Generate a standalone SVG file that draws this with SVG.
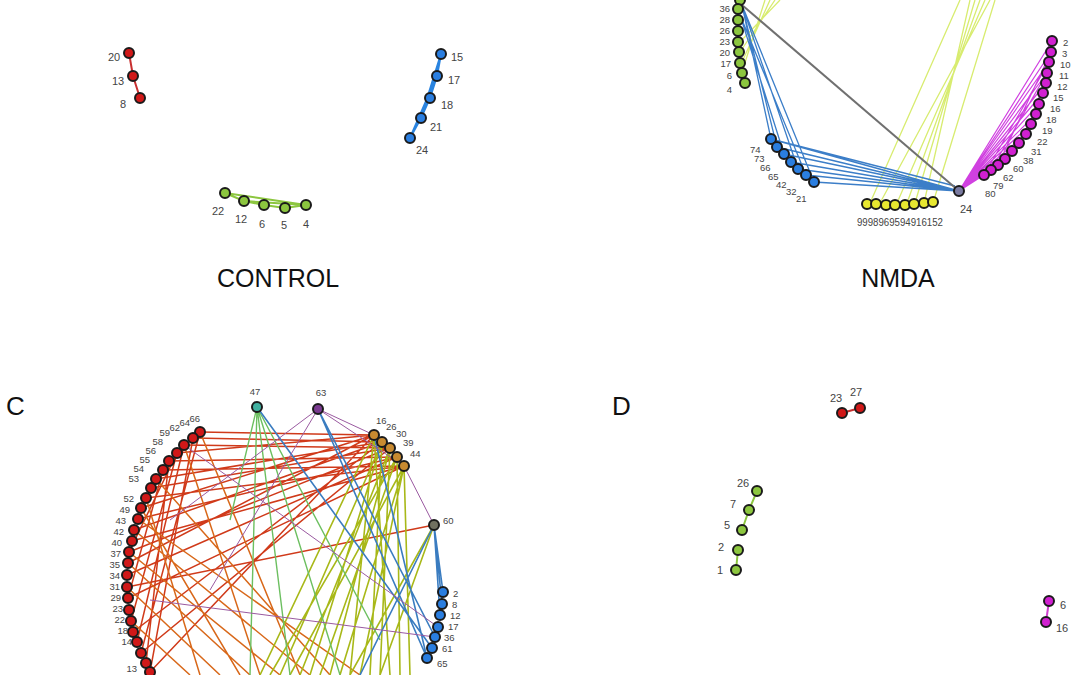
<svg xmlns="http://www.w3.org/2000/svg" width="1080" height="675" viewBox="0 0 1080 675">
<style>
text{font-family:"Liberation Sans",Arial,sans-serif;fill:#444;font-size:11px}
.s{font-size:9.5px}
.big{font-size:26px;fill:#111}
.ttl{font-size:25px;fill:#111}
circle{stroke:#1a1a1a;stroke-width:2;r:5}
.r{fill:#d01818}.b{fill:#2a7ee0}.g{fill:#8cc63f}.y{fill:#e8e830}.m{fill:#d020d0}.o{fill:#c88a30}
.lr{stroke:#d03a1a;stroke-width:1.5;fill:none}
.lo{stroke:#d8681a;stroke-width:1.5;fill:none}
.ly{stroke:#a8b818;stroke-width:1.6;fill:none}
.lg{stroke:#6cbf60;stroke-width:1.4;fill:none}
.lb{stroke:#3a7cc0;stroke-width:1.6;fill:none}
.lp{stroke:#9a5aa0;stroke-width:1;fill:none}
.lyn{stroke:#d8ec70;stroke-width:1.3;fill:none}
.lbn{stroke:#3c7ec8;stroke-width:1.3;fill:none}
.lm{stroke:#d040e0;stroke-width:1.2;fill:none}
</style>
<rect width="1080" height="675" fill="#fff"/>
<g id="connectors">
<path d="M129 53L133 76L140 98" stroke="#c83030" stroke-width="2" fill="none"/>
<path d="M441 54L437 76L430 98L421 118L410 138M441 54L421 118M437 76L410 138M441 54L430 98" stroke="#2a84e0" stroke-width="2" fill="none"/>
<path d="M225 193L244 201L264 205L285 208L306 205M225 193L306 205M244 201L306 205" stroke="#8cc63f" stroke-width="2" fill="none"/>
<path class="lyn" d="M742 62L770 0M742 72L765 0M740 52L775 0M740 42L780 0M880 203L990 0M897 203L985 0M907 203L980 0M915 203L975 0M924 203L970 0M933 203L995 0M870 203L960 0"/>
<path class="lbn" d="M742 5L771 139M742 5L777 147M742 5L798 169M742 5L814 182M740 15L806 175M740 15L784 154M771 139L959 191M777 147L959 191M784 154L959 191M791 162L959 191M798 169L959 191M806 175L959 191M814 182L959 191M771 139L955 186M777 147L955 190"/>
<path d="M742 5L959 191" stroke="#707070" stroke-width="2" fill="none"/>
<path class="lm" d="M959 191L1052 41M959 191L1051 52M959 191L1049 62M959 191L1047 73M959 191L1046 83M959 191L1043 93M959 191L1039 104M959 191L1036 114M959 191L1031 124M959 191L1026 134M959 191L1019 143M959 191L1012 151M959 191L1005 159M959 191L998 165M959 191L991 170M959 191L984 175M984 175L1049 62M991 170L1047 73M998 165L1051 52"/>
<path class="lr" d="M200 432L374 435M193 438L382 442M184 445L390 448M177 453L374 435M169 461L397 457M163 470L404 466M156 479L382 442M151 488L390 448M146 498L404 466M141 508L374 435M138 519L397 457M134 530L382 442M132 541L404 466M129 552L390 448M128 563L374 435M127 575L397 457M127 587L434 525M128 598L404 466M133 632L382 442M141 653L390 448M150 672L374 435"/>
<path class="lr" d="M177 453L129 552M177 453L131 621M184 445L137 642M169 461L146 663M200 432L141 653M193 438L150 672M163 470L128 598"/>
<path class="lo" d="M200 432L300 675M184 445L260 675M156 479L330 675M141 508L240 675M129 552L280 675M127 587L220 675M131 621L190 675M138 519L360 675M146 498L200 675M128 563L250 675M134 530L310 675"/>
<path class="ly" d="M374 435L260 675M382 442L280 675M390 448L300 675M397 457L320 675M404 466L340 675M374 435L350 675M382 442L370 675M390 448L380 675M397 457L400 675M404 466L290 675M390 448L330 675M382 442L310 675M404 466L360 675M374 435L390 675M397 457L270 675M434 525L350 675M434 525L380 675M404 466L410 675"/>
<path class="lg" d="M257 407L250 675M257 407L290 675M257 407L340 675M257 407L230 520M257 407L380 640"/>
<path class="lb" d="M257 407L432 648M318 409L427 658M318 409L435 637M434 525L443 592M434 525L442 604M434 525L440 615M434 525L360 675M374 435L427 658"/>
<path class="lp" d="M318 409L210 590M318 409L170 520M318 409L374 435M318 409L404 466M184 445L438 627M404 466L434 525M150 600L435 637"/>
<path d="M842 413L860 408" stroke="#c83030" stroke-width="2"/>
<path d="M757 491L749 510L742 530M738 550L736 570" stroke="#8cc63f" stroke-width="2" fill="none"/>
<path d="M1049 601L1046 622" stroke="#d040d0" stroke-width="2"/>
</g>
<g id="control-nodes">
<circle class="r" cx="129" cy="53"/><circle class="r" cx="133" cy="76"/><circle class="r" cx="140" cy="98"/>
<text x="108" y="61">20</text><text x="112" y="85">13</text><text x="120" y="108">8</text>
<circle class="b" cx="441" cy="54"/><circle class="b" cx="437" cy="76"/><circle class="b" cx="430" cy="98"/><circle class="b" cx="421" cy="118"/><circle class="b" cx="410" cy="138"/>
<text x="451" y="61">15</text><text x="448" y="84">17</text><text x="441" y="109">18</text><text x="430" y="131">21</text><text x="416" y="154">24</text>
<circle class="g" cx="225" cy="193"/><circle class="g" cx="244" cy="201"/><circle class="g" cx="264" cy="205"/><circle class="g" cx="285" cy="208"/><circle class="g" cx="306" cy="205"/>
<text x="212" y="215">22</text><text x="235" y="223">12</text><text x="259" y="228">6</text><text x="281" y="229">5</text><text x="303" y="228">4</text>
<text class="ttl" x="278" y="287" text-anchor="middle">CONTROL</text>
</g>
<g id="nmda-nodes">
<circle class="g" cx="740" cy="0"/><circle class="g" cx="738" cy="9"/><circle class="g" cx="738" cy="20"/><circle class="g" cx="738" cy="31"/><circle class="g" cx="738" cy="42"/><circle class="g" cx="739" cy="52"/><circle class="g" cx="740" cy="63"/><circle class="g" cx="742" cy="73"/><circle class="g" cx="745" cy="83"/>
<g text-anchor="end" class="s"><text class="s" x="730" y="12">36</text><text class="s" x="730" y="23">28</text><text class="s" x="730" y="34">26</text><text class="s" x="730" y="45">23</text><text class="s" x="730" y="56">20</text><text class="s" x="731" y="67">17</text><text class="s" x="732" y="79">6</text><text class="s" x="732" y="93">4</text></g>
<circle class="b" cx="771" cy="139"/><circle class="b" cx="777" cy="147"/><circle class="b" cx="784" cy="154"/><circle class="b" cx="791" cy="162"/><circle class="b" cx="798" cy="169"/><circle class="b" cx="806" cy="175"/><circle class="b" cx="814" cy="182"/>
<text class="s" x="750" y="153">74</text><text class="s" x="754" y="162">73</text><text class="s" x="760" y="171">66</text><text class="s" x="768" y="180">65</text><text class="s" x="776" y="188">42</text><text class="s" x="786" y="195">32</text><text class="s" x="796" y="202">21</text>
<circle class="y" cx="867" cy="204"/><circle class="y" cx="876" cy="204"/><circle class="y" cx="886" cy="205"/><circle class="y" cx="895" cy="205"/><circle class="y" cx="905" cy="205"/><circle class="y" cx="914" cy="204"/><circle class="y" cx="924" cy="203"/><circle class="y" cx="933" cy="202"/>
<text x="857" y="226" textLength="86" lengthAdjust="spacingAndGlyphs">9998969594916152</text>
<circle cx="959" cy="191" fill="#7a7aa0"/><text x="960" y="213">24</text>
<circle class="m" cx="1052" cy="41"/><circle class="m" cx="1051" cy="52"/><circle class="m" cx="1049" cy="62"/><circle class="m" cx="1047" cy="73"/><circle class="m" cx="1046" cy="83"/><circle class="m" cx="1043" cy="93"/><circle class="m" cx="1039" cy="104"/><circle class="m" cx="1036" cy="114"/><circle class="m" cx="1031" cy="124"/><circle class="m" cx="1026" cy="134"/><circle class="m" cx="1019" cy="143"/><circle class="m" cx="1012" cy="151"/><circle class="m" cx="1005" cy="159"/><circle class="m" cx="998" cy="165"/><circle class="m" cx="991" cy="170"/><circle class="m" cx="984" cy="175"/>
<text class="s" x="1063" y="46">2</text><text class="s" x="1062" y="57">3</text><text class="s" x="1060" y="68">10</text><text class="s" x="1059" y="79">11</text><text class="s" x="1057" y="90">12</text><text class="s" x="1053" y="101">15</text><text class="s" x="1050" y="112">16</text><text class="s" x="1046" y="123">18</text><text class="s" x="1042" y="134">19</text><text class="s" x="1037" y="145">22</text><text class="s" x="1031" y="155">31</text><text class="s" x="1023" y="164">38</text><text class="s" x="1013" y="172">60</text><text class="s" x="1003" y="181">62</text><text class="s" x="993" y="189">79</text><text class="s" x="985" y="197">80</text>
<text class="ttl" x="898" y="287" text-anchor="middle">NMDA</text>
</g>
<g id="c-nodes">
<text class="big" x="6" y="415">C</text>
<circle class="r" cx="200" cy="432"/><circle class="r" cx="193" cy="438"/><circle class="r" cx="184" cy="445"/><circle class="r" cx="177" cy="453"/><circle class="r" cx="169" cy="461"/><circle class="r" cx="163" cy="470"/><circle class="r" cx="156" cy="479"/><circle class="r" cx="151" cy="488"/><circle class="r" cx="146" cy="498"/><circle class="r" cx="141" cy="508"/><circle class="r" cx="138" cy="519"/><circle class="r" cx="134" cy="530"/><circle class="r" cx="132" cy="541"/><circle class="r" cx="129" cy="552"/><circle class="r" cx="128" cy="563"/><circle class="r" cx="127" cy="575"/><circle class="r" cx="127" cy="587"/><circle class="r" cx="128" cy="598"/><circle class="r" cx="129" cy="610"/><circle class="r" cx="131" cy="621"/><circle class="r" cx="133" cy="632"/><circle class="r" cx="137" cy="642"/><circle class="r" cx="141" cy="653"/><circle class="r" cx="146" cy="663"/><circle class="r" cx="150" cy="672"/>
<g text-anchor="end"><text class="s" x="200" y="422">66</text><text class="s" x="190" y="426">64</text><text class="s" x="180" y="431">62</text><text class="s" x="170" y="436">59</text><text class="s" x="163" y="445">58</text><text class="s" x="156" y="454">56</text><text class="s" x="150" y="463">55</text><text class="s" x="144" y="472">54</text><text class="s" x="139" y="482">53</text><text class="s" x="134" y="502">52</text><text class="s" x="130" y="513">49</text><text class="s" x="126" y="524">43</text><text class="s" x="124" y="535">42</text><text class="s" x="122" y="546">40</text><text class="s" x="121" y="557">37</text><text class="s" x="120" y="568">35</text><text class="s" x="120" y="579">34</text><text class="s" x="120" y="590">31</text><text class="s" x="121" y="601">29</text><text class="s" x="123" y="612">23</text><text class="s" x="125" y="623">22</text><text class="s" x="128" y="634">18</text><text class="s" x="132" y="645">14</text><text class="s" x="137" y="672">13</text></g>
<circle cx="257" cy="407" fill="#40b0a0"/><text class="s" x="255" y="395" text-anchor="middle">47</text>
<circle cx="318" cy="409" fill="#7a3a90"/><text class="s" x="321" y="396" text-anchor="middle">63</text>
<circle class="o" cx="374" cy="435"/><circle class="o" cx="382" cy="442"/><circle class="o" cx="390" cy="448"/><circle class="o" cx="397" cy="457"/><circle class="o" cx="404" cy="466"/>
<text class="s" x="376" y="424">16</text><text class="s" x="386" y="430">26</text><text class="s" x="396" y="437">30</text><text class="s" x="403" y="446">39</text><text class="s" x="410" y="457">44</text>
<circle cx="434" cy="525" fill="#707060"/><text class="s" x="443" y="524">60</text>
<circle class="b" cx="443" cy="592"/><circle class="b" cx="442" cy="604"/><circle class="b" cx="440" cy="615"/><circle class="b" cx="438" cy="627"/><circle class="b" cx="435" cy="637"/><circle class="b" cx="432" cy="648"/><circle class="b" cx="427" cy="658"/>
<text class="s" x="453" y="597">2</text><text class="s" x="452" y="608">8</text><text class="s" x="450" y="619">12</text><text class="s" x="448" y="630">17</text><text class="s" x="444" y="641">36</text><text class="s" x="442" y="652">61</text><text class="s" x="437" y="667">65</text>
</g>
<g id="d-nodes">
<text class="big" x="612" y="415">D</text>
<circle class="r" cx="842" cy="413"/><circle class="r" cx="860" cy="408"/>
<text x="830" y="402">23</text><text x="850" y="396">27</text>
<circle class="g" cx="757" cy="491"/><circle class="g" cx="749" cy="510"/><circle class="g" cx="742" cy="530"/><circle class="g" cx="738" cy="550"/><circle class="g" cx="736" cy="570"/>
<text x="737" y="487">26</text><text x="730" y="508">7</text><text x="724" y="529">5</text><text x="718" y="551">2</text><text x="717" y="574">1</text>
<circle class="m" cx="1049" cy="601"/><circle class="m" cx="1046" cy="622"/>
<text x="1060" y="609">6</text><text x="1056" y="632">16</text>
</g>
</svg>
